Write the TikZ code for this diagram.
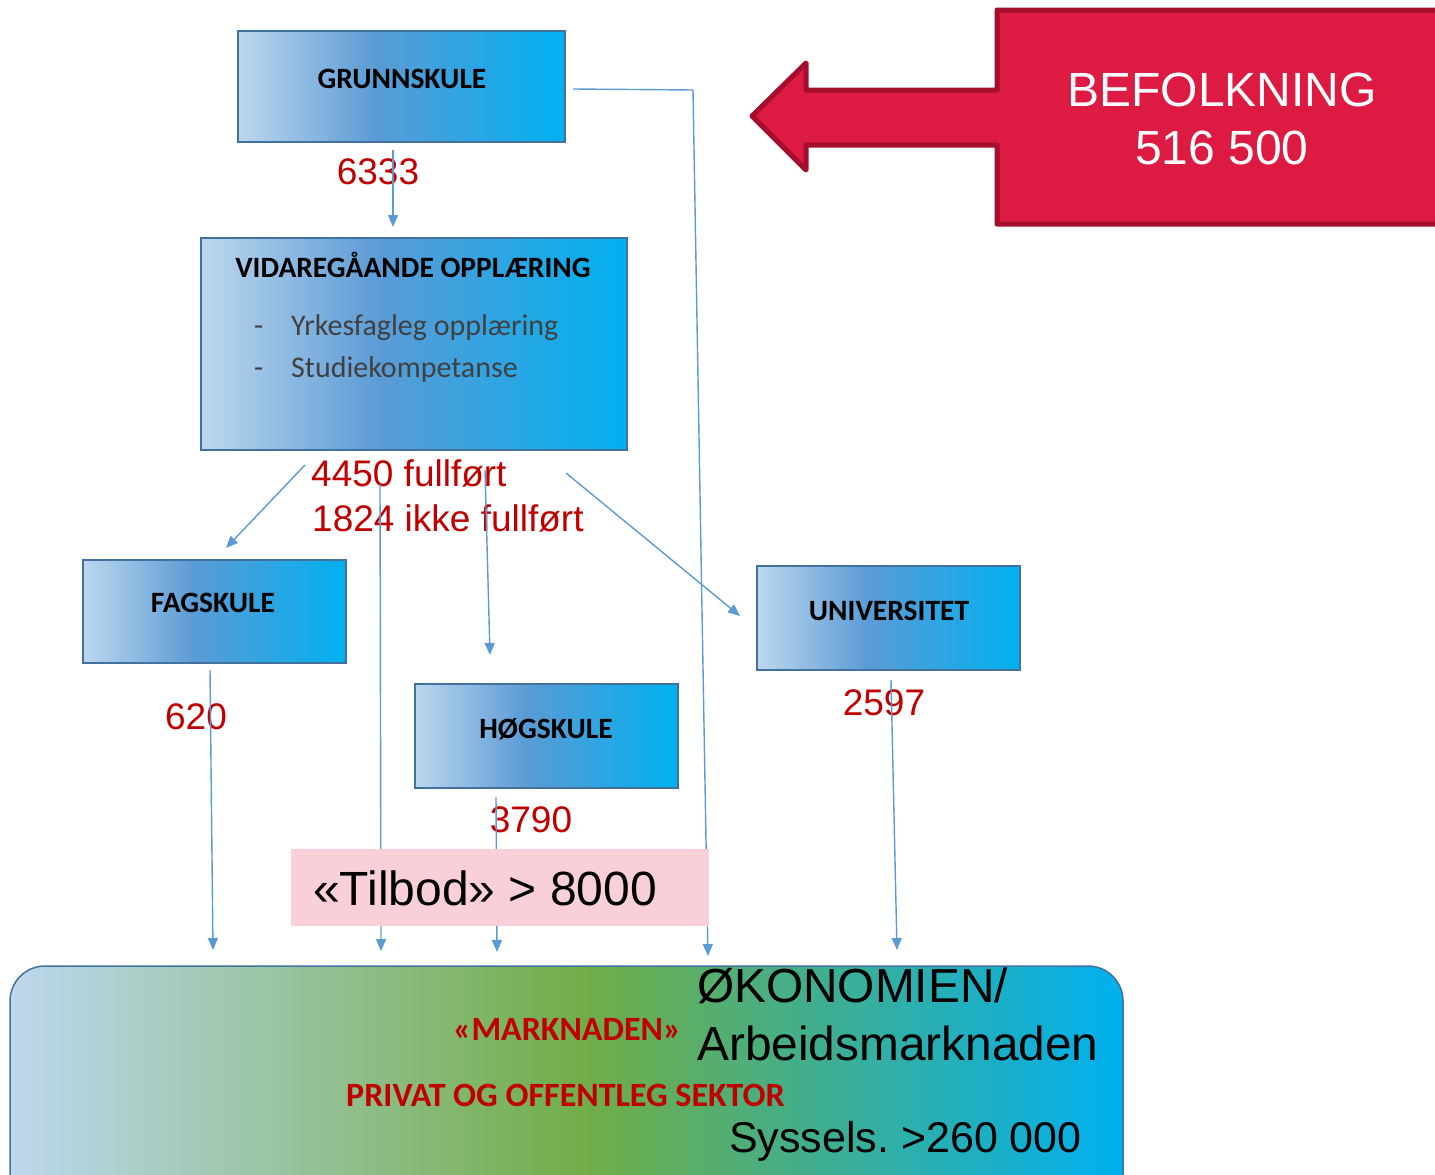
\documentclass[tikz,border=0pt]{standalone}
\usepackage{fontspec}
\setmainfont{Liberation Sans}
\newfontfamily\calib{Carlito}
\usetikzlibrary{arrows.meta}
\frenchspacing
\definecolor{boxL}{RGB}{189,215,238}
\definecolor{boxM}{RGB}{91,155,213}
\definecolor{boxR}{RGB}{0,176,240}
\definecolor{boxB}{RGB}{65,113,156}
\definecolor{conn}{RGB}{91,155,213}
\definecolor{numred}{RGB}{192,0,0}
\definecolor{arrfill}{RGB}{221,26,66}
\definecolor{arrline}{RGB}{165,14,44}
\definecolor{pinkbg}{RGB}{249,207,216}
\definecolor{grn}{RGB}{112,173,71}
\definecolor{txtgrey}{RGB}{64,64,64}
\pgfdeclarehorizontalshading{boxshade}{100bp}{color(0bp)=(boxL); color(25bp)=(boxL); color(46bp)=(boxM); color(75bp)=(boxR); color(100bp)=(boxR)}
\pgfdeclarehorizontalshading{ecoshade}{100bp}{color(0bp)=(boxL); color(25bp)=(boxL); color(51bp)=(grn); color(75bp)=(boxR); color(100bp)=(boxR)}
\tikzset{
  bluebox/.style={draw=boxB, line width=1.5pt, shading=boxshade, inner sep=0pt},
  boxtxt/.style={font=\calib\bfseries\fontsize{29.5}{35}\selectfont, text=black, anchor=base, inner sep=0pt},
  bullettxt/.style={font=\calib\fontsize{30}{36}\selectfont, text=txtgrey, anchor=base west, inner sep=0pt},
  numtxt/.style={font=\fontsize{37}{44}\selectfont, text=numred, anchor=base, inner sep=0pt},
  bigtxt/.style={font=\fontsize{47.8}{56}\selectfont, text=black, anchor=base west, inner sep=0pt},
  redbold/.style={font=\calib\bfseries\fontsize{34}{40}\selectfont, text=numred, anchor=base west, inner sep=0pt},
  conline/.style={draw=conn, line width=1.4pt},
  conarrow/.style={conline, -{Triangle[length=12pt,width=10pt]}},
}
\begin{document}
\begin{tikzpicture}[x=1pt,y=-1pt]
\useasboundingbox (0,0) rectangle (1435,1175);
\clip (0,0) rectangle (1435,1175);

% bottom economy box
\shade[shading=ecoshade, draw=boxB, line width=1.5pt, rounded corners=35pt] (10,966) rectangle (1123,1230);
\node[coordinate] (ecobox) at (566,1070) {};

% boxes
\node[bluebox, minimum width=327pt, minimum height=111pt] (gs) at (401.5,86.5) {};
\node[bluebox, minimum width=426pt, minimum height=212pt] (vo) at (414,344) {};
\node[bluebox, minimum width=263pt, minimum height=103pt] (fs) at (214.5,611.5) {};
\node[bluebox, minimum width=263pt, minimum height=104pt] (hs) at (546.5,736) {};
\node[bluebox, minimum width=263pt, minimum height=104pt] (un) at (888.5,618) {};

% box texts
\node[boxtxt] (gst) at (402,88) {GRUNNSKULE};
\node[boxtxt] (vot) at (413,277) {VIDAREGÅANDE OPPLÆRING};
\node[bullettxt] (d1) at (254,335) {-};
\node[bullettxt] (b1) at (291,335) {Yrkesfagleg opplæring};
\node[bullettxt] (d2) at (254,377) {-};
\node[bullettxt] (b2) at (291,377) {Studiekompetanse};
\node[boxtxt] (fst) at (213,612) {FAGSKULE};
\node[boxtxt] (hst) at (546,738) {HØGSKULE};
\node[boxtxt] (unt) at (889,620) {UNIVERSITET};

% red number labels
\node[numtxt] (n1) at (378,184) {6333};
\node[numtxt, anchor=base west] (n2) at (311,486) {4450 fullført};
\node[numtxt, anchor=base west] (n3) at (312,531) {1824 ikke fullført};
\node[numtxt] (n4) at (196,729) {620};
\node[numtxt] (n5) at (531,832) {3790};
\node[numtxt] (n6) at (884,715) {2597};

% connector end points
\coordinate (a1s) at (393,150);  \coordinate (a1e) at (393,227);
\coordinate (a2s) at (573,89);   \coordinate (a2m) at (693,90);  \coordinate (a2e) at (708,956);
\coordinate (a3s) at (305,465);  \coordinate (a3e) at (226,548);
\coordinate (a4s) at (380,484);  \coordinate (a4e) at (381,951);
\coordinate (a5s) at (485,470);  \coordinate (a5e) at (490,655);
\coordinate (a6s) at (566,473);  \coordinate (a6e) at (740,616);
\coordinate (a7s) at (210,670);  \coordinate (a7e) at (213,950);
\coordinate (a8s) at (496,797);  \coordinate (a8e) at (497,952);
\coordinate (a9s) at (891,680);  \coordinate (a9e) at (897,950);

\draw[conarrow] (a1s) -- (a1e);
\draw[conarrow] (a2s) -- (a2m) -- (a2e);
\draw[conarrow] (a3s) -- (a3e);
\draw[conarrow] (a4s) -- (a4e);
\draw[conarrow] (a5s) -- (a5e);
\draw[conarrow] (a6s) -- (a6e);
\draw[conarrow] (a7s) -- (a7e);
\draw[conarrow] (a8s) -- (a8e);
\draw[conarrow] (a9s) -- (a9e);

% Tilbod box
\node[fill=pinkbg, minimum width=418pt, minimum height=77pt, inner sep=0pt] (tb) at (500,887.5) {};
\node[bigtxt, font=\fontsize{48}{56}\selectfont] (tbt) at (313,905) {«Tilbod» > 8000};

% economy texts
\node[bigtxt] (ok1) at (697,1002) {ØKONOMIEN/};
\node[bigtxt] (ok2) at (697,1060) {Arbeidsmarknaden};
\node[redbold] (mk) at (453,1040) {«MARKNADEN»};
\node[redbold] (ps) at (346,1106) {PRIVAT OG OFFENTLEG SEKTOR};
\node[bigtxt, font=\fontsize{43}{52}\selectfont] (sy) at (729,1152) {Syssels. >260 000};

% BEFOLKNING arrow
\draw[fill=arrfill, draw=arrline, line width=5pt, line join=round]
  (752,116) -- (806,63) -- (806,90) -- (997,90) -- (997,10) -- (1450,10) -- (1450,224)
  -- (997,224) -- (997,145) -- (806,145) -- (806,170) -- cycle;
\node[font=\fontsize{48}{56}\selectfont, text=white, anchor=base, inner sep=0pt] (bf1) at (1222,106) {BEFOLKNING};
\node[font=\fontsize{48}{56}\selectfont, text=white, anchor=base, inner sep=0pt] (bf2) at (1222,164) {516 500};
\end{tikzpicture}
\end{document}
